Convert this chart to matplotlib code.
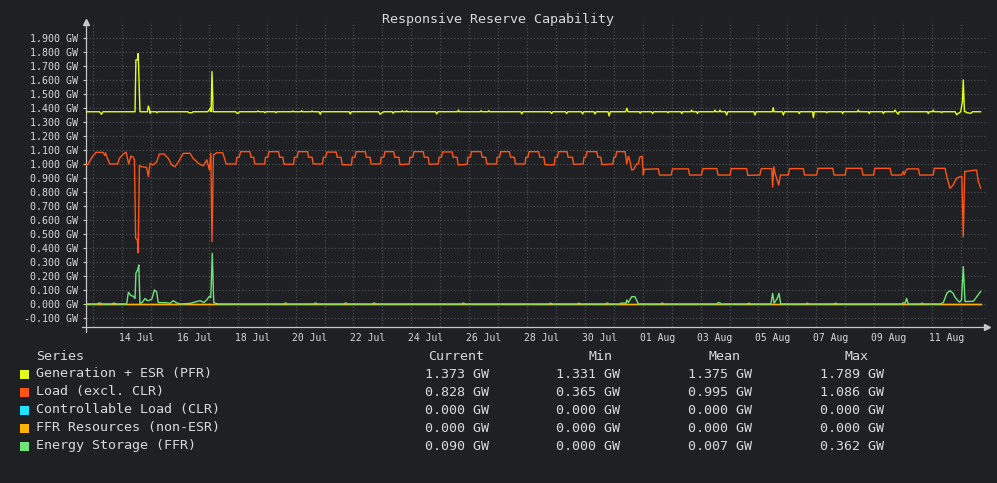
import numpy as np
import matplotlib
matplotlib.use('Agg')
import matplotlib.pyplot as plt
from matplotlib.patches import Rectangle

# x values are days since 12 Jul 00:00, y values are GW

gen_day = [0.755, 1.22, 1.29, 1.34,
           2.45, 2.48, 2.53, 2.56, 2.62,
           2.88, 2.91, 2.95, 2.97, 3.00,
           3.18, 3.21, 3.24,
           4.28, 4.31, 4.42, 4.45,
           4.96, 5.01, 5.06, 5.08, 5.11, 5.15,
           5.93, 5.97, 6.02, 6.06,
           6.66, 6.70, 6.74, 6.91, 6.94, 6.98,
           7.29, 7.32, 7.36, 7.88, 7.91, 7.94,
           8.18, 8.21, 8.24, 8.54, 8.57, 8.60,
           8.81, 8.85, 8.89, 9.85, 9.89, 9.93,
           10.87, 10.92, 10.98, 11.05,
           11.34, 11.37, 11.41, 11.66, 11.69, 11.72,
           11.81, 11.84, 11.87, 12.84, 12.88, 12.92,
           13.60, 13.63, 13.66, 14.38, 14.41, 14.44,
           14.65, 14.68, 14.71, 15.78, 15.82, 15.86,
           16.81, 16.85, 16.89, 17.33, 17.37, 17.41,
           17.88, 17.92, 17.96, 18.31, 18.35, 18.39,
           18.80, 18.84, 18.88, 19.41, 19.45, 19.49,
           19.88, 19.91, 19.94, 20.30, 20.34, 20.38,
           20.84, 20.87, 20.90, 21.32, 21.35, 21.38,
           21.66, 21.69, 21.72, 21.86, 21.89, 21.92,
           22.47, 22.50, 22.53, 22.64, 22.67, 22.70,
           22.86, 22.90, 22.94, 23.84, 23.88, 23.92,
           24.48, 24.51, 24.54, 24.82, 24.86, 24.90,
           25.38, 25.41, 25.44, 25.87, 25.90, 25.93,
           26.33, 26.36, 26.39, 26.88, 26.91, 26.94,
           27.42, 27.45, 27.48, 27.80, 27.83, 27.86,
           28.29, 28.32, 28.35, 28.69, 28.72, 28.76, 28.83, 28.87,
           29.84, 29.87, 29.90, 30.01, 30.04, 30.07,
           30.30, 30.33, 30.36,
           30.80, 30.85, 30.99, 31.05, 31.08, 31.12,
           31.17, 31.20, 31.34, 31.40, 31.68]
gen_gw = [1.373, 1.373, 1.355, 1.373,
          1.373, 1.743, 1.743, 1.789, 1.373,
          1.373, 1.414, 1.390, 1.362, 1.373,
          1.373, 1.366, 1.373,
          1.373, 1.366, 1.366, 1.373,
          1.373, 1.385, 1.400, 1.373, 1.660, 1.373,
          1.373, 1.362, 1.362, 1.373,
          1.373, 1.378, 1.373, 1.373, 1.366, 1.373,
          1.373, 1.366, 1.373, 1.373, 1.378, 1.373,
          1.373, 1.380, 1.373, 1.373, 1.378, 1.373,
          1.373, 1.355, 1.373, 1.373, 1.357, 1.373,
          1.373, 1.355, 1.365, 1.373,
          1.373, 1.362, 1.373, 1.373, 1.380, 1.373,
          1.373, 1.380, 1.373, 1.373, 1.357, 1.373,
          1.373, 1.385, 1.373, 1.373, 1.380, 1.373,
          1.373, 1.380, 1.373, 1.373, 1.357, 1.373,
          1.373, 1.360, 1.373, 1.373, 1.360, 1.373,
          1.373, 1.357, 1.373, 1.373, 1.357, 1.373,
          1.373, 1.343, 1.373, 1.373, 1.398, 1.373,
          1.373, 1.362, 1.373, 1.373, 1.360, 1.373,
          1.373, 1.366, 1.373, 1.373, 1.360, 1.373,
          1.373, 1.385, 1.373, 1.373, 1.360, 1.373,
          1.373, 1.385, 1.373, 1.373, 1.385, 1.373,
          1.373, 1.350, 1.373, 1.373, 1.350, 1.373,
          1.373, 1.402, 1.373, 1.373, 1.350, 1.373,
          1.373, 1.360, 1.373, 1.373, 1.331, 1.373,
          1.373, 1.366, 1.373, 1.373, 1.360, 1.373,
          1.373, 1.385, 1.373, 1.373, 1.360, 1.373,
          1.373, 1.360, 1.373, 1.373, 1.385, 1.373, 1.355, 1.373,
          1.373, 1.360, 1.373, 1.373, 1.385, 1.373,
          1.373, 1.366, 1.373,
          1.373, 1.352, 1.373, 1.445, 1.600, 1.373,
          1.373, 1.366, 1.362, 1.373, 1.373]

load_day = [0.755, 0.82, 0.96, 1.10, 1.34, 1.40, 1.43, 1.48, 1.58, 1.85, 1.91,
            2.04, 2.14, 2.23, 2.31, 2.39, 2.43, 2.47, 2.53, 2.56, 2.60, 2.68, 2.85, 2.91, 2.97,
            3.08, 3.20, 3.29, 3.45, 3.60, 3.72, 3.83, 3.95,
            4.12, 4.35, 4.46, 4.64, 4.81, 4.93,
            5.02, 5.07, 5.11, 5.16, 5.27, 5.48, 5.53, 5.60, 5.94,
            5.97, 6.05, 6.10, 6.42, 6.46, 6.55, 6.59, 6.93,
            6.96, 7.04, 7.08, 7.41, 7.45, 7.56, 7.60, 7.93,
            7.96, 8.05, 8.09, 8.41, 8.45, 8.57, 8.61, 8.93,
            8.96, 9.04, 9.08, 9.40, 9.44, 9.57, 9.61, 9.93,
            9.96, 10.05, 10.09, 10.41, 10.45, 10.57, 10.61, 10.93,
            10.96, 11.05, 11.09, 11.39, 11.43, 11.57, 11.61, 11.93,
            11.95, 12.05, 12.09, 12.41, 12.45, 12.58, 12.62, 12.93,
            12.96, 13.04, 13.08, 13.41, 13.45, 13.58, 13.62, 13.93,
            13.96, 14.04, 14.08, 14.41, 14.45, 14.57, 14.61, 14.94,
            14.97, 15.05, 15.09, 15.39, 15.43, 15.56, 15.60, 15.93,
            15.96, 16.03, 16.07, 16.40, 16.44, 16.58, 16.62, 16.94,
            16.97, 17.05, 17.09, 17.38, 17.42, 17.57, 17.61, 17.94,
            17.97, 18.03, 18.07, 18.41, 18.45, 18.55, 18.59, 18.97,
            19.00, 19.06, 19.10, 19.39, 19.45, 19.50, 19.55, 19.62, 19.68, 19.79, 19.85,
            19.90, 19.98, 20.02, 20.05,
            20.54, 20.58, 20.98, 21.03,
            21.58, 21.62, 22.03, 22.08,
            22.56, 22.60, 23.02, 23.06,
            23.59, 23.63, 24.05, 24.10,
            24.40, 24.46, 24.49, 24.53, 24.58, 24.64, 24.70, 24.76, 25.03, 25.08,
            25.55, 25.59, 26.01, 26.06,
            26.57, 26.61, 27.00, 27.04,
            27.57, 27.61, 27.98, 28.02,
            28.55, 28.60, 28.95, 29.00, 29.04, 29.10, 29.15,
            29.53, 29.57, 30.04, 30.08,
            30.45, 30.51, 30.62, 30.73, 30.85, 30.97, 31.03, 31.08, 31.13,
            31.54, 31.60, 31.68]
load_gw = [0.995, 0.995, 1.048, 1.083, 1.083, 1.062, 1.080, 1.048, 1.000, 1.000, 1.040,
           1.070, 1.085, 1.000, 1.057, 1.048, 1.030, 0.470, 0.457, 0.365, 0.990, 0.980, 0.976, 0.910, 1.005,
           0.993, 1.016, 1.071, 1.071, 1.040, 0.993, 0.980, 1.016,
           1.076, 1.076, 1.040, 1.005, 0.986, 1.030,
           0.957, 1.076, 0.445, 1.064, 1.080, 1.080, 1.048, 1.000, 1.000,
           1.048, 1.048, 1.088, 1.088, 1.048, 1.048, 1.000, 1.000,
           1.048, 1.048, 1.088, 1.088, 1.048, 1.048, 0.998, 0.998,
           1.048, 1.048, 1.088, 1.088, 1.048, 1.048, 1.000, 1.000,
           1.048, 1.048, 1.085, 1.085, 1.048, 1.048, 0.995, 0.993,
           1.048, 1.048, 1.088, 1.088, 1.048, 1.048, 1.000, 1.000,
           1.048, 1.048, 1.088, 1.088, 1.048, 1.048, 0.995, 1.000,
           1.048, 1.048, 1.088, 1.088, 1.048, 1.048, 0.998, 1.000,
           1.048, 1.048, 1.086, 1.086, 1.048, 1.048, 0.993, 0.998,
           1.048, 1.048, 1.088, 1.088, 1.048, 1.048, 1.000, 1.000,
           1.048, 1.048, 1.088, 1.088, 1.048, 1.048, 1.000, 1.000,
           1.048, 1.048, 1.088, 1.088, 1.048, 1.048, 0.995, 0.993,
           1.048, 1.048, 1.088, 1.088, 1.048, 1.048, 0.997, 1.000,
           1.048, 1.048, 1.088, 1.088, 1.048, 1.048, 0.995, 1.000,
           1.048, 1.048, 1.088, 1.088, 1.000, 1.055, 1.030, 0.957, 0.960, 1.000, 1.000,
           1.050, 1.055, 0.921, 0.962,
           0.965, 0.921, 0.921, 0.965,
           0.965, 0.921, 0.921, 0.967,
           0.967, 0.921, 0.921, 0.967,
           0.967, 0.919, 0.921, 0.967,
           0.967, 0.967, 0.835, 0.980, 0.930, 0.890, 0.850, 0.921, 0.921, 0.967,
           0.967, 0.921, 0.921, 0.969,
           0.969, 0.921, 0.921, 0.969,
           0.969, 0.921, 0.921, 0.969,
           0.969, 0.921, 0.921, 0.945, 0.925, 0.955, 0.965,
           0.965, 0.921, 0.921, 0.969,
           0.969, 0.910, 0.826, 0.850, 0.898, 0.910, 0.910, 0.480, 0.946,
           0.957, 0.874, 0.828]

clr_day = [0.755, 31.68]
clr_gw = [0.0, 0.0]
ffr_day = [0.755, 31.68]
ffr_gw = [0.0, 0.0]

esr_day = [0.755, 1.14, 1.19, 1.27, 1.31, 1.65, 1.69, 1.76, 1.79,
           2.16, 2.22, 2.31, 2.39, 2.45, 2.48, 2.54, 2.58, 2.62, 2.69, 2.80, 2.86, 2.93,
           3.03, 3.12, 3.20, 3.25, 3.49, 3.66, 3.77, 3.87, 4.00,
           4.35, 4.70, 4.83, 4.93, 5.02, 5.07, 5.12, 5.17, 5.25, 5.32,
           7.60, 7.63, 7.68, 7.71, 8.64, 8.67, 8.72, 8.75,
           9.68, 9.71, 9.76, 9.79, 10.66, 10.69, 10.74, 10.77,
           13.75, 13.78, 13.82, 13.85, 16.76, 16.79, 16.83, 16.86,
           17.74, 17.77, 17.81, 17.84, 18.72, 18.75, 18.79, 18.82,
           19.20, 19.23, 19.38, 19.41, 19.45, 19.50, 19.62, 19.73, 19.85,
           20.62, 20.65, 20.70, 20.73, 22.57, 22.61, 22.66, 22.70,
           23.62, 23.65, 23.69, 23.72,
           24.43, 24.49, 24.54, 24.65, 24.71, 24.77,
           25.64, 25.67, 25.71, 25.74, 26.62, 26.65, 26.69, 26.72,
           28.95, 29.01, 29.07, 29.12, 29.18,
           29.61, 29.64, 29.68, 29.71,
           30.28, 30.39, 30.51, 30.62, 30.73, 30.79, 30.91, 30.96, 31.02, 31.08, 31.14,
           31.43, 31.54, 31.68]
esr_gw = [0.0, 0.0, 0.006, 0.006, 0.0, 0.0, 0.005, 0.005, 0.0,
          0.0, 0.084, 0.060, 0.055, 0.040, 0.220, 0.243, 0.279, 0.005, 0.010, 0.040, 0.025, 0.025,
          0.035, 0.100, 0.085, 0.010, 0.010, 0.005, 0.024, 0.010, 0.0,
          0.004, 0.024, 0.010, 0.030, 0.055, 0.045, 0.362, 0.010, 0.004, 0.0,
          0.0, 0.006, 0.006, 0.0, 0.0, 0.006, 0.006, 0.0,
          0.0, 0.006, 0.006, 0.0, 0.0, 0.006, 0.006, 0.0,
          0.0, 0.006, 0.006, 0.0, 0.0, 0.005, 0.005, 0.0,
          0.0, 0.005, 0.005, 0.0, 0.0, 0.006, 0.006, 0.0,
          0.0, 0.006, 0.006, 0.0, 0.029, 0.010, 0.052, 0.052, 0.0,
          0.0, 0.005, 0.005, 0.0, 0.0, 0.010, 0.010, 0.0,
          0.0, 0.005, 0.005, 0.0,
          0.0, 0.076, 0.005, 0.040, 0.076, 0.0,
          0.0, 0.005, 0.005, 0.0, 0.0, 0.005, 0.005, 0.0,
          0.0, 0.010, 0.005, 0.040, 0.0,
          0.0, 0.005, 0.005, 0.0,
          0.0, 0.010, 0.076, 0.095, 0.076, 0.050, 0.020, 0.014, 0.030, 0.267, 0.017,
          0.020, 0.050, 0.090]

series_names = ['Generation + ESR (PFR)', 'Load (excl. CLR)', 'Controllable Load (CLR)',
                'FFR Resources (non-ESR)', 'Energy Storage (FFR)']
series_colors = ['#e2ff1c', '#ff5414', '#1ee4ff', '#ffb300', '#6fe37a']
cur_gw = [1.373, 0.828, 0.000, 0.000, 0.090]
min_gw = [1.331, 0.365, 0.000, 0.000, 0.000]
mean_gw = [1.375, 0.995, 0.000, 0.000, 0.007]
max_gw = [1.789, 1.086, 0.000, 0.000, 0.362]

tick_days = [2.5, 4.5, 6.5, 8.5, 10.5, 12.5, 14.5, 16.5, 18.5, 20.5, 22.5, 24.5, 26.5, 28.5, 30.5]
tick_labels = ['14 Jul', '16 Jul', '18 Jul', '20 Jul', '22 Jul', '24 Jul', '26 Jul', '28 Jul',
               '30 Jul', '01 Aug', '03 Aug', '05 Aug', '07 Aug', '09 Aug', '11 Aug']
y_ticks = [-0.1, 0.0, 0.1, 0.2, 0.3, 0.4, 0.5, 0.6, 0.7, 0.8, 0.9, 1.0,
           1.1, 1.2, 1.3, 1.4, 1.5, 1.6, 1.7, 1.8, 1.9]

W, H = 997, 483
BG = '#1f2023'
FG = '#d8d9da'
AX = '#c8c8c8'
GRID = '#4a4b4e'
MONO = 'DejaVu Sans Mono'

fx = lambda px: px / W
fy = lambda py: 1 - py / H

plt.rcParams['font.family'] = MONO
fig = plt.figure(figsize=(W / 100, H / 100), dpi=100, facecolor=BG)
ax = fig.add_axes([fx(86), fy(327), fx(987) - fx(86), fy(22) - fy(327)])
ax.set_facecolor(BG)

ax.plot(gen_day, gen_gw, color=series_colors[0], lw=1.0, zorder=3)
ax.plot(load_day, load_gw, color=series_colors[1], lw=1.0, zorder=3)
ax.plot(clr_day, clr_gw, color=series_colors[2], lw=1.0, zorder=3)
ax.plot(ffr_day, ffr_gw, color=series_colors[3], lw=1.0, zorder=3)
ax.plot(esr_day, esr_gw, color=series_colors[4], lw=1.0, zorder=4)

ax.set_xlim(0.755, 31.90)
ax.set_ylim(-0.1643, 2.014)

ax.set_xticks(tick_days)
ax.set_xticklabels(tick_labels)
ax.set_xticks(range(1, 32), minor=True)
ax.set_yticks(y_ticks)
ax.set_yticklabels([f'{v:.3f} GW' for v in y_ticks])
ax.tick_params(axis='x', which='both', length=0, pad=4, labelsize=7, colors=FG)
ax.tick_params(axis='y', length=2.5, width=0.8, pad=3, labelsize=7.2, colors=FG)
ax.tick_params(axis='y', color=AX)

ax.grid(axis='y', which='major', ls=':', color=GRID, lw=0.9)
ax.grid(axis='x', which='minor', ls=':', color=GRID, lw=0.9)
ax.set_axisbelow(True)

for side in ['top', 'right']:
    ax.spines[side].set_visible(False)
for side in ['left', 'bottom']:
    ax.spines[side].set_color(AX)
    ax.spines[side].set_linewidth(0.9)

# arrows at the end of the axes, small overhang where they cross
ax.plot([0], [1], marker='^', ms=4, color=AX, transform=ax.transAxes, clip_on=False)
ax.plot([1], [0], marker='>', ms=4, color=AX, transform=ax.transAxes, clip_on=False)
ax.plot([0, 0], [0, -0.015], color=AX, lw=0.9, transform=ax.transAxes, clip_on=False)
ax.plot([-0.004, 0], [0, 0], color=AX, lw=0.9, transform=ax.transAxes, clip_on=False)

fig.text(fx(498), fy(19), 'Responsive Reserve Capability', ha='center', va='center',
         color=FG, fontsize=9.6)

# legend table
fs = 9.6
fig.text(fx(36), fy(356), 'Series', ha='left', va='center', color=FG, fontsize=fs)
for label, xc in zip(['Current', 'Min', 'Mean', 'Max'], [456, 600, 724, 856]):
    fig.text(fx(xc), fy(356), label, ha='center', va='center', color=FG, fontsize=fs)

for i in range(len(series_names)):
    yc = 374 + 18 * i
    fig.add_artist(Rectangle((fx(20), fy(yc + 4.5)), fx(9), 9 / H, transform=fig.transFigure,
                             facecolor=series_colors[i], edgecolor='none'))
    fig.text(fx(36), fy(yc), series_names[i], ha='left', va='center', color=FG, fontsize=fs)
    vals = [cur_gw[i], min_gw[i], mean_gw[i], max_gw[i]]
    for v, xc in zip(vals, [457, 588, 720, 852]):
        fig.text(fx(xc), fy(yc), f'{v:.3f} GW', ha='center', va='center', color=FG, fontsize=fs)

fig.savefig('out.png', dpi=100, facecolor=BG)
